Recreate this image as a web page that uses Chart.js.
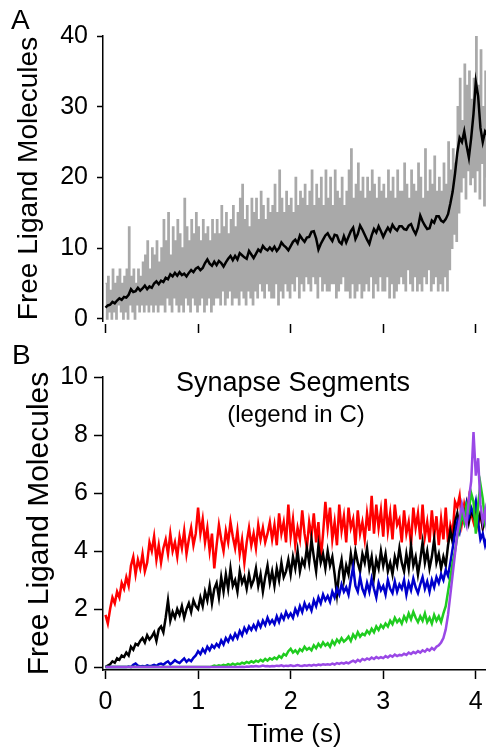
<!DOCTYPE html>
<html>
<head>
<meta charset="utf-8">
<script src="https://cdn.jsdelivr.net/npm/chart.js@4.4.0/dist/chart.umd.min.js"></script>
<style>
  body { margin: 0; background: #fff; }
  #wrap { position: relative; width: 486px; height: 755px; overflow: hidden; font-family: "Liberation Sans", Arial, sans-serif; color: #000; }
  canvas { position: absolute; left: 0; }
  .txt { position: absolute; line-height: 1; white-space: nowrap; }
</style>
</head>
<body>
<div id="wrap">
  <canvas id="chartA" width="486" height="345" style="top:0px;"></canvas>
  <canvas id="chartB" width="486" height="415" style="top:340px;"></canvas>
  <div class="txt" style="left:11px; top:6px; font-size:28px;">A</div>
  <div class="txt" style="left:12px; top:341px; font-size:28px;">B</div>
  <div class="txt" style="left:93px; width:400px; text-align:center; top:369px; font-size:27px;">Synapse Segments</div>
  <div class="txt" style="left:96px; width:400px; text-align:center; top:402px; font-size:24px;">(legend in C)</div>
</div>
<script>
// time axis ticks (s)
var timeTicks = [0, 1, 2, 3, 4];
var yTicksA = [0, 10, 20, 30, 40];
var yTicksB = [0, 2, 4, 6, 8, 10];

// sample steps of the traces (s)
var dtRawA = 0.0125;
var dtAvgA = 0.025;
var dtB = 0.025;

// panel A: single-run molecule count (gray, integer steps)
var rawA = [
  5,0,6,1,4,0,7,1,5,0,6,2,7,1,5,0,
  6,1,7,0,13,2,6,1,7,0,5,2,7,1,6,2,
  8,1,9,2,11,1,7,2,10,1,9,2,11,1,8,2,
  10,2,14,1,11,3,15,2,9,1,13,3,11,2,14,1,
  12,2,10,1,17,3,13,2,11,1,14,3,12,2,15,1,
  13,2,11,3,14,1,12,2,13,3,11,1,14,2,12,3,
  14,3,12,2,16,4,13,2,15,3,12,4,14,2,16,3,
  13,3,15,2,17,4,19,3,14,2,16,4,13,3,17,2,
  15,4,17,3,14,5,18,4,16,3,14,5,17,4,15,3,
  16,3,19,5,15,2,21,4,17,3,15,5,18,4,16,3,
  17,5,15,4,20,6,16,3,18,5,17,4,19,6,16,5,
  18,4,21,6,16,5,19,3,17,6,20,4,16,5,21,4,
  17,4,20,5,16,5,21,3,18,4,17,5,20,6,16,4,
  18,4,21,3,24,5,17,3,19,4,22,5,18,3,20,4,
  17,5,20,4,18,6,21,3,19,5,17,4,20,6,18,4,
  19,4,17,6,21,3,18,5,20,3,17,4,21,5,18,6,
  18,5,22,4,19,7,17,5,21,4,19,6,18,4,22,5,
  20,4,17,6,24,5,18,7,21,4,19,5,23,6,18,4,
  20,5,18,4,22,6,19,4,25,7,21,10,24,12,22,11,
  30,15,34,18,28,20,36,17,33,21,35,19,31,20,34,18,
  40,21,33,17,38,22,30,16,35,20,27
];
// panel A: average over runs (black)
var avgA = [
  1.6,1.9,2.0,2.4,2.2,2.6,2.9,2.7,
  3.1,3.0,3.4,4.2,3.8,3.9,4.4,4.0,
  4.3,4.7,4.2,4.6,4.4,5.0,5.3,4.9,
  5.4,5.2,5.8,5.6,6.3,6.0,6.5,6.1,
  6.6,6.2,6.4,6.0,6.5,6.9,6.6,7.1,
  7.3,6.9,7.2,7.9,8.4,7.8,7.5,8.1,
  7.6,8.2,7.9,7.4,8.0,8.5,8.9,8.3,
  8.9,8.4,9.3,9.0,8.7,8.5,9.6,9.1,
  8.6,9.2,9.8,9.5,10.3,9.9,9.7,10.1,
  9.7,10.2,9.6,10.0,10.8,10.4,10.1,9.7,
  10.3,10.9,11.2,10.7,11.8,11.3,10.9,11.5,
  11.6,12.3,12.4,11.4,9.8,10.6,11.2,11.8,
  12.1,11.5,11.0,11.9,11.8,10.9,10.6,11.7,
  10.8,11.6,12.4,12.9,11.3,12.0,13.2,12.6,
  11.9,11.2,10.6,11.8,12.7,12.2,13.1,12.4,
  11.6,12.3,12.9,12.4,13.3,12.8,12.5,13.1,
  13.1,12.7,12.6,13.2,13.4,12.6,12.0,12.9,
  14.6,13.8,13.2,12.7,12.8,13.9,13.6,14.5,
  14.5,13.9,13.7,14.1,14.8,16.3,18.0,20.5,
  23.5,25.6,25.0,26.5,24.5,22.8,25.6,29.0,
  33.5,31.5,27.0,25.0,26.5,26.0
];

// panel B: synapse segments
var segRed = [
  1.8,1.5,2.0,2.4,2.2,2.6,2.4,2.9,
  2.7,3.1,2.8,3.5,3.8,3.2,3.7,3.4,
  3.9,3.3,3.6,4.3,4.0,4.5,3.7,4.2,
  3.6,4.1,4.4,3.9,4.6,4.0,4.3,3.8,
  4.5,4.1,4.7,3.9,4.4,4.8,4.2,4.6,
  5.5,4.6,5.1,4.3,4.8,4.0,4.6,3.4,
  4.2,4.9,4.4,4.0,4.7,4.3,5.0,4.5,
  4.1,4.7,3.9,4.4,3.6,4.3,4.8,4.2,
  4.6,4.1,4.9,4.4,4.8,4.3,4.6,5.0,
  4.4,4.9,4.2,5.3,4.6,5.0,4.3,5.6,
  4.5,5.1,4.2,4.8,4.4,5.4,4.6,4.1,
  5.0,4.5,5.3,4.3,5.0,3.7,4.6,5.7,
  4.8,5.5,4.4,5.0,4.2,5.6,4.7,5.2,
  4.3,5.5,4.8,5.1,4.2,5.4,4.6,5.0,
  4.4,5.3,4.7,5.9,4.6,5.6,4.8,5.4,
  4.5,5.8,4.7,5.3,4.4,5.6,4.9,5.1,
  4.3,5.4,4.6,5.0,4.2,5.5,4.8,5.3,
  4.4,5.6,4.5,5.0,4.3,5.4,4.5,5.2,
  4.2,5.1,4.4,5.5,4.3,4.9,4.6,5.7,
  5.5,5.9,5.0,5.6,5.2,5.8,5.3,5.0,
  5.5,4.9,5.3,4.8,5.1,4.9
];
var segBlack = [
  0.0,0.05,0.1,0.2,0.15,0.3,0.25,0.4,
  0.35,0.5,0.4,0.7,0.6,0.8,0.75,0.9,
  1.0,0.85,1.1,0.95,1.05,1.2,0.9,1.3,
  1.4,1.2,1.7,2.3,1.6,1.9,1.7,2.0,
  1.8,2.1,1.7,2.0,2.2,1.9,2.3,2.1,
  2.0,2.4,2.1,2.6,2.3,2.8,2.2,2.7,
  2.9,2.4,3.1,2.6,3.2,2.7,3.4,2.8,
  3.0,2.6,3.3,2.9,3.1,2.7,3.2,2.8,
  3.0,3.4,2.8,3.2,2.6,3.1,3.5,2.9,
  3.3,2.8,3.4,3.0,3.6,3.1,3.3,3.7,
  3.2,3.8,3.4,4.0,3.3,3.7,3.5,4.1,
  3.6,4.4,3.8,3.3,4.2,3.6,3.9,3.4,
  4.0,3.5,3.8,3.2,2.5,3.3,3.7,3.0,
  3.5,3.2,3.9,3.4,4.0,3.6,3.3,3.9,
  3.6,4.1,3.4,3.8,3.1,3.7,3.4,4.0,
  3.5,3.9,3.3,3.6,3.2,3.8,3.5,4.1,
  3.6,3.3,3.9,3.4,4.2,3.5,3.8,3.2,
  3.7,4.3,3.6,4.0,3.4,3.8,4.4,3.6,
  3.9,3.4,3.8,3.5,4.2,4.7,4.3,5.0,
  5.3,4.8,5.5,5.1,5.6,5.0,5.4,5.2,
  5.6,5.0,5.3,4.8,5.1,4.9
];
var segBlue = [
  0,0,0,0,0,0,0,0,
  0,0,0.02,0,0.08,0.12,0.05,0.02,
  0.04,0.02,0.06,0.03,0.05,0.08,0.04,0.1,
  0.12,0.08,0.15,0.2,0.1,0.16,0.24,0.18,
  0.14,0.22,0.3,0.18,0.26,0.2,0.32,0.4,
  0.55,0.45,0.62,0.5,0.7,0.58,0.75,0.66,
  0.8,0.7,0.92,0.78,1.0,0.88,1.08,0.95,
  1.15,1.0,1.25,1.1,1.35,1.2,1.4,1.28,
  1.45,1.3,1.55,1.38,1.6,1.45,1.7,1.5,
  1.62,1.48,1.75,1.55,1.8,1.65,1.9,1.72,
  1.85,1.7,2.0,1.82,2.1,1.9,2.2,2.0,
  2.15,1.95,2.3,2.1,2.4,2.2,2.5,2.3,
  2.45,2.25,2.6,2.4,2.7,2.5,2.85,2.6,
  2.75,2.5,3.0,3.45,2.8,2.6,3.1,2.7,
  2.5,2.9,2.6,3.05,2.7,2.4,2.9,2.65,
  2.8,2.5,3.0,2.7,2.55,2.95,2.6,2.85,
  2.7,3.0,2.5,2.9,2.65,3.05,2.75,2.55,
  2.85,3.1,2.7,2.95,2.6,3.0,2.75,3.1,
  2.9,3.2,3.0,3.35,3.15,3.6,4.1,4.6,
  5.0,4.7,5.3,5.0,5.6,5.2,5.5,5.3,
  5.7,5.0,4.4,4.6,4.2,4.5
];
var segGreen = [
  0,0,0,0,0,0,0,0,
  0,0,0,0,0,0,0,0,
  0,0,0,0,0,0,0,0,
  0,0,0,0,0,0,0,0,
  0,0,0,0,0,0,0,0,
  0,0,0,0,0,0,0.02,0.05,
  0.03,0.06,0.04,0.08,0.05,0.1,0.07,0.12,
  0.08,0.12,0.1,0.15,0.12,0.18,0.14,0.2,
  0.16,0.22,0.18,0.25,0.2,0.28,0.22,0.3,
  0.26,0.33,0.28,0.38,0.32,0.45,0.4,0.55,
  0.63,0.5,0.58,0.48,0.62,0.55,0.7,0.6,
  0.66,0.58,0.75,0.65,0.8,0.7,0.85,0.74,
  0.82,0.7,0.9,0.78,0.95,0.85,1.0,0.88,
  0.95,1.05,0.9,1.12,1.0,1.2,1.05,1.15,
  1.1,1.25,1.15,1.32,1.2,1.4,1.28,1.45,
  1.35,1.5,1.4,1.6,1.48,1.7,1.55,1.65,
  1.5,1.75,1.6,1.85,1.65,1.9,1.7,1.55,
  1.75,1.6,1.85,1.55,1.7,1.5,1.8,1.6,
  1.75,1.55,1.85,2.1,2.6,3.1,3.6,4.0,
  4.5,4.8,5.3,5.0,5.6,5.4,6.0,5.7,
  4.6,5.6,6.3,5.8,5.0,5.3
];
var segPurple = [
  0,0,0,0,0,0,0,0,
  0,0,0,0,0,0,0,0,
  0,0,0,0,0,0,0,0,
  0,0,0,0,0,0,0,0,
  0,0,0,0,0,0,0,0,
  0,0,0,0,0,0,0,0,
  0,0,0,0,0,0,0,0,
  0,0,0,0.01,0,0.02,0.01,0.03,
  0.02,0.04,0.02,0.03,0.05,0.03,0.04,0.02,
  0.04,0.03,0.05,0.04,0.06,0.03,0.05,0.04,
  0.06,0.04,0.05,0.07,0.05,0.04,0.06,0.05,
  0.07,0.05,0.08,0.06,0.09,0.07,0.1,0.08,
  0.1,0.08,0.12,0.09,0.14,0.11,0.15,0.12,
  0.16,0.13,0.18,0.22,0.17,0.25,0.2,0.28,
  0.24,0.3,0.26,0.33,0.28,0.35,0.3,0.34,
  0.31,0.38,0.33,0.4,0.36,0.43,0.38,0.42,
  0.4,0.46,0.42,0.5,0.45,0.52,0.48,0.55,
  0.5,0.58,0.53,0.62,0.57,0.66,0.6,0.7,
  0.75,0.85,1.0,1.3,1.8,2.5,3.2,3.9,
  4.6,5.1,5.6,5.2,4.9,5.8,6.4,8.1,
  6.6,7.2,5.6,5.0,5.4,4.6
];

Chart.defaults.font.family = '"Liberation Sans", Arial, sans-serif';
Chart.defaults.color = '#000';

function toXY(arr, dt){
	return arr.map(function(v, i){ return {x: i * dt, y: v}; });
}

function lineSet(arr, dt, color, width, stepped){
	return {
		data: toXY(arr, dt),
		borderColor: color,
		borderWidth: width,
		pointRadius: 0,
		tension: 0,
		stepped: stepped || false,
		fill: false
	};
}

function yAxis(min, max, tickVals, tickLen, pad, titleSize, titlePad){
	return {
		type: 'linear', min: min, max: max,
		afterBuildTicks: function(s){ s.ticks = tickVals.map(function(v){ return {value: v}; }); },
		afterFit: function(s){ s.width = 103; },
		border: { display: true, color: '#000', width: 1.5 },
		grid: { drawOnChartArea: false, drawTicks: true, tickLength: tickLen, tickColor: '#000', tickWidth: 1.5 },
		ticks: { color: '#000', font: { size: 25 }, padding: pad },
		title: { display: true, text: 'Free Ligand Molecules', color: '#000', font: { size: titleSize }, padding: { top: titlePad, bottom: 0 } }
	};
}

function timeAxis(height){
	return {
		type: 'linear', min: -0.027, max: 4.11,
		afterBuildTicks: function(s){ s.ticks = timeTicks.map(function(v){ return {value: v}; }); },
		// keep the plot running to the right edge, as in the figure
		afterFit: function(s){ s.height = height; s.paddingLeft = 0; s.paddingRight = 0; }
	};
}

var commonOpts = {
	responsive: false,
	animation: false,
	events: [],
	plugins: { legend: { display: false }, tooltip: { enabled: false } }
};

// ---- panel A
var xA = timeAxis(20);
xA.border = { display: false };
xA.grid = { drawOnChartArea: false, tickLength: 12, tickColor: '#000', tickWidth: 1.5, tickBorderDash: [0, 3, 9, 40] };
xA.ticks = { display: false };

new Chart(document.getElementById('chartA').getContext('2d'), {
	type: 'line',
	data: {
		datasets: [
			lineSet(avgA, dtAvgA, '#000000', 2.5),
			lineSet(rawA, dtRawA, '#a9a9a9', 1.6, true)
		]
	},
	options: Object.assign({}, commonOpts, {
		layout: { padding: { top: 36, right: 0, bottom: 0, left: 0 } },
		scales: { x: xA, y: yAxis(-0.3, 40, yTicksA, 6, 9, 28, 12) }
	})
});

// ---- panel B
var xB = timeAxis(85);
xB.border = { display: true, color: '#000', width: 1.5 };
xB.grid = { drawOnChartArea: false, tickLength: 9, tickColor: '#000', tickWidth: 1.5 };
xB.ticks = { color: '#000', font: { size: 25 }, padding: 8, maxRotation: 0 };
xB.title = { display: true, text: 'Time (s)', color: '#000', font: { size: 26 }, padding: { top: 0, bottom: 5 } };

new Chart(document.getElementById('chartB').getContext('2d'), {
	type: 'line',
	data: {
		datasets: [
			lineSet(segPurple, dtB, '#9a48e6', 2.5),
			lineSet(segGreen, dtB, '#1fcc1f', 2.5),
			lineSet(segBlue, dtB, '#0000cc', 2.5),
			lineSet(segBlack, dtB, '#000000', 2.5),
			lineSet(segRed, dtB, '#ff0000', 2.5)
		]
	},
	options: Object.assign({}, commonOpts, {
		layout: { padding: { top: 37, right: 0, bottom: 0, left: 0 } },
		scales: { x: xB, y: yAxis(-0.1, 10, yTicksB, 9, 6, 30, 22) }
	})
});
</script>
</body>
</html>
